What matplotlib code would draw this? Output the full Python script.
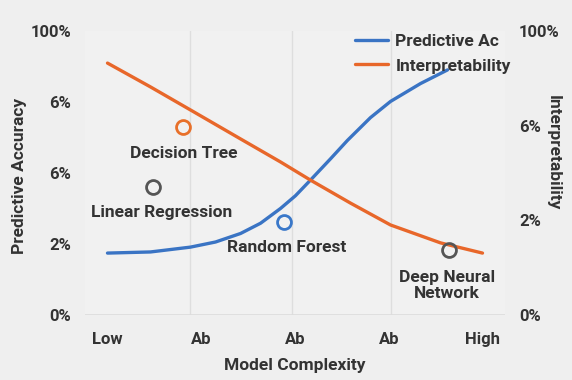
import matplotlib.pyplot as plt

# complexity positions (Low .. High) and tick labels
x_ticks = [0, 1, 2, 3, 4]
x_labels = ['Low', 'Ab', 'Ab', 'Ab', 'High']

# curves (fraction of axis height)
acc_x = [0, 0.459, 0.885, 1.152, 1.419, 1.632, 1.845, 2.005, 2.165, 2.379, 2.56, 2.805, 3.019, 3.339, 3.627]
acc_y = [0.218, 0.222, 0.239, 0.257, 0.287, 0.323, 0.375, 0.42, 0.475, 0.55, 0.615, 0.695, 0.752, 0.815, 0.863]
int_x = [0, 0.459, 0.885, 1.419, 1.845, 2.165, 2.592, 3.019, 3.552, 4.0]
int_y = [0.887, 0.803, 0.722, 0.62, 0.539, 0.475, 0.394, 0.317, 0.254, 0.218]

# model markers
models = ['Decision Tree', 'Linear Regression', 'Random Forest', 'Deep Neural\nNetwork']
model_x = [0.81, 0.49, 1.88, 3.64]
model_y = [0.662, 0.45, 0.327, 0.229]
model_col = ['#e8702a', '#555555', '#3a78c9', '#555555']
label_x = [0.81, 0.58, 1.91, 3.62]
label_y = [0.57, 0.36, 0.236, 0.104]

left_ticks = [0, 0.25, 0.5, 0.75, 1.0]
left_labels = ['0%', '2%', '6%', '6%', '100%']
right_ticks = [0, 1/3, 2/3, 1.0]
right_labels = ['0%', '2%', '6%', '100%']

bg = '#efefef'
txt = '#333333'
plt.rcParams['font.family'] = ['Roboto', 'DejaVu Sans']
plt.rcParams['font.weight'] = 'bold'
plt.rcParams['axes.labelweight'] = 'bold'

fig = plt.figure(figsize=(5.72, 3.8), dpi=100, facecolor=bg)
ax = fig.add_axes([85/572, 1 - 315/380, (505-85)/572, (315-31)/380])
ax.set_facecolor('#f1f1f1')

for gx in [0.885, 1.97, 3.02]:
    ax.axvline(gx, color='#dedede', lw=1, zorder=0)
ax.axhline(0, color='#dcdcdc', lw=1.2, zorder=0)

ax.plot(acc_x, acc_y, color='#3a74c4', lw=2.4, solid_capstyle='round',
        solid_joinstyle='round', label='Predictive Ac')
ax.plot(int_x, int_y, color='#e8672a', lw=2.4, solid_capstyle='round',
        solid_joinstyle='round', label='Interpretability')

for m, mx, my, c, lx, ly in zip(models, model_x, model_y, model_col, label_x, label_y):
    ax.plot(mx, my, 'o', ms=10, mfc='none', mec=c, mew=2)
    ax.text(lx, ly, m, ha='center', va='center', fontsize=12.5, color=txt,
            linespacing=1.1)

ax.set_xlim(-0.24, 4.24)
ax.set_ylim(0, 1)
ax.set_xticks(x_ticks)
ax.set_xticklabels(x_labels)
ax.set_yticks(left_ticks)
ax.set_yticklabels(left_labels)
for s in ax.spines.values():
    s.set_visible(False)
ax.tick_params(length=0, labelsize=12, labelcolor=txt, pad=10)
ax.tick_params(axis='x', pad=12)
ax.set_xlabel('Model Complexity', fontsize=12.5, color=txt, labelpad=8)
ax.set_ylabel('Predictive Accuracy', fontsize=12.5, color=txt)
ax.yaxis.set_label_coords(-0.138, 0.49)

ax2 = ax.twinx()
ax2.set_ylim(0, 1)
ax2.set_yticks(right_ticks)
ax2.set_yticklabels(right_labels)
for s in ax2.spines.values():
    s.set_visible(False)
ax2.tick_params(length=0, labelsize=12, labelcolor=txt, pad=10)
ax2.set_ylabel('Interpretability', fontsize=12.5, color=txt, rotation=270, va='center')
ax2.yaxis.set_label_coords(1.115, 0.57)

leg = ax.legend(loc='upper right', bbox_to_anchor=(1.03, 1.015), frameon=False,
                fontsize=12.5, handlelength=1.9, handletextpad=0.4,
                labelspacing=0.55, borderaxespad=0)
for t in leg.get_texts():
    t.set_color(txt)

fig.savefig('out.png', dpi=100, facecolor=bg)
